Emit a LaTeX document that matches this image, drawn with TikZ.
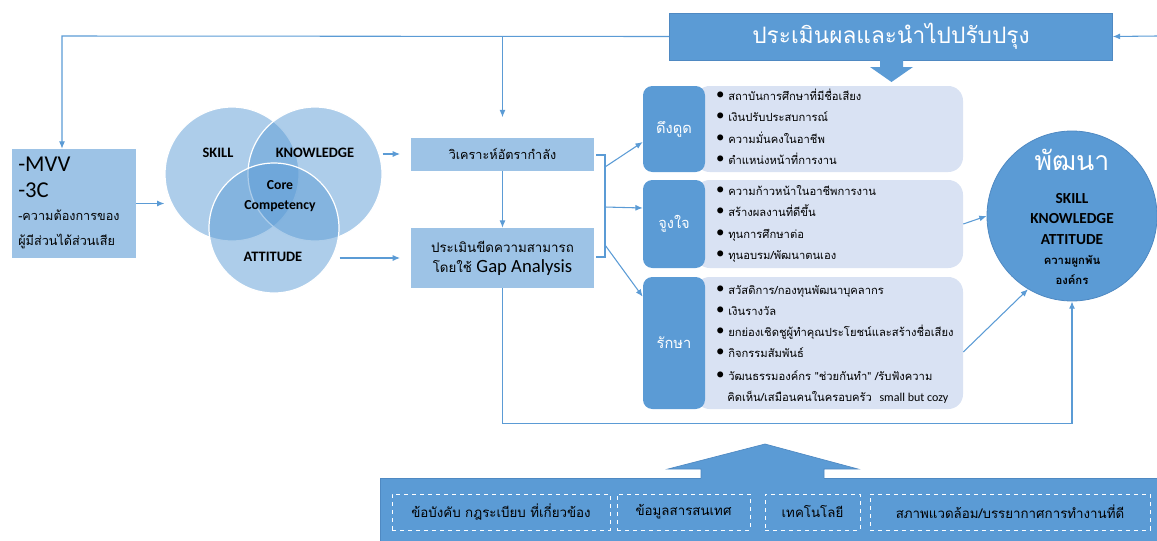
\documentclass[tikz,border=0pt]{standalone}
\usepackage{fontspec}
\setmainfont{Carlito}
\newfontfamily\thf[Script=Thai]{Loma}
\usetikzlibrary{arrows.meta,calc}
\definecolor{bl}{HTML}{5B9BD5}
\definecolor{bld}{HTML}{4F89C2}
\definecolor{lb}{HTML}{9DC3E6}
\definecolor{pn}{HTML}{D9E2F3}
\begin{document}
\begin{tikzpicture}[x=0.75pt,y=-0.75pt,
  sz/.style 2 args={minimum width=#1*0.75pt, minimum height=#2*0.75pt, inner sep=0pt},
  conn/.style={draw=bl, line width=0.8pt, -{Latex[length=5.5pt,width=4.5pt]}},
  plain/.style={draw=bl, line width=0.8pt},
  lbox/.style={fill=lb, draw=none},
  dbox/.style={fill=bl, draw=none, rounded corners=7pt, text=white},
  panel/.style={fill=pn, draw=none, rounded corners=11pt},
  vc/.style={circle, fill=bl, fill opacity=0.5, draw=white, line width=0.9pt, inner sep=0pt},
  vlab/.style={font=\bfseries\fontsize{10.8}{12}\selectfont, inner sep=0pt},
  item/.style={anchor=base west, inner sep=0pt, font=\thf\fontsize{8.4}{10}\selectfont},
  dsh/.style={draw=white, dashed, line width=0.6pt, font=\thf\fontsize{10}{12}\selectfont}
]
\useasboundingbox (0,0) rectangle (1157,540);

% evaluation box
\node[sz={443}{47}, fill=bl, draw=bld, text=white, font=\thf\fontsize{17}{20}\selectfont] (eval) at (891,36.5) {ประเมินผลและนำไปปรับปรุง};
\fill[bl] (880,60) -- (903,60) -- (903,67) -- (913,67) -- (891.5,82) -- (870,67) -- (880,67) -- cycle;
\coordinate (rin) at (1157,36);
\draw[conn] (rin) -- (eval.east);

% MVV box
\node[lbox, sz={124}{109}] (mvv) at (74,203.5) {};
\node[anchor=base west, inner sep=0pt, font=\fontsize{17}{20}\selectfont] (t1) at (18,171) {-MVV};
\node[anchor=base west, inner sep=0pt, font=\fontsize{17}{20}\selectfont] (t2) at (18,197) {-3C};
\node[anchor=base west, inner sep=0pt, font=\thf\fontsize{9.5}{12}\selectfont] (t3) at (18,220) {-ความต้องการของ};
\node[anchor=base west, inner sep=0pt, font=\thf\fontsize{9.5}{12}\selectfont] (t4) at (18,245) {ผู้มีส่วนได้ส่วนเสีย};

% top feedback line
\draw[conn] (eval.west) -- (62,36) -- (62,0 |- mvv.north);

% Venn
\node[vc, minimum size=134*0.75pt] (skill) at (232,174) {};
\node[vc, minimum size=134*0.75pt] (know) at (315,174) {};
\node[vc, minimum size=130*0.75pt] (att) at (274,228) {};
\node[vlab] (ls) at (218,153) {SKILL};
\node[vlab] (lk) at (315,153) {KNOWLEDGE};
\node[vlab, align=center, font=\bfseries\fontsize{10.3}{15}\selectfont] (lc) at (280,196) {Core\\Competency};
\node[vlab] (la) at (273,257) {ATTITUDE};
\draw[conn] (mvv.east) -- (mvv.east -| skill.west);

% analysis boxes
\node[lbox, sz={183}{33}, font=\thf\fontsize{9.5}{12}\selectfont] (wk) at (502.5,154) {วิเคราะห์อัตรากำลัง};
\node[lbox, sz={183}{60}, align=center, font=\thf\fontsize{10}{12}\selectfont] (pm) at (502.5,258) {ประเมินขีดความสามารถ\\[3pt]โดยใช้ {\rmfamily\fontsize{14}{14}\selectfont Gap Analysis}};
\draw[conn, shorten >=15pt] (wk.north |- eval.west) -- (wk.north);
\draw[conn] (wk.south) -- (pm.north);
\draw[conn, shorten >=8pt] (know.east |- wk.west) -- (wk.west);
\draw[conn, shorten >=8pt] (att.east |- pm.west) -- (pm.west);

% panels
\node[panel, sz={268}{86}] (ddp) at (829,129) {};
\node[panel, sz={268}{88}] (jjp) at (829,224) {};
\node[panel, sz={268}{132}] (rkp) at (829,343) {};
\node[dbox, sz={62}{86}, font=\thf\fontsize{11}{13}\selectfont] (dd) at (674,129) {ดึงดูด};
\node[dbox, sz={62}{88}, font=\thf\fontsize{11}{13}\selectfont] (jj) at (674,224) {จูงใจ};
\node[dbox, sz={62}{132}, font=\thf\fontsize{11}{13}\selectfont] (rk) at (674,343) {รักษา};

% bracket
\coordinate (br1) at (605,167);
\coordinate (br2) at (605,207);
\coordinate (br3) at (605,245);
\draw[plain] (596,155) -- (605,155) -- (605,257) -- (596,257);
\draw[conn] (br1) -- ($(dd.west)+(0,13)$);
\draw[conn] (br2) -- ($(jj.west)+(0,-16)$);
\draw[conn] (br3) -- ($(rk.north west)+(0,20)$);

% items
\newcommand{\bul}{{\fontsize{13}{10}\selectfont\textbullet}\hspace{3pt}}
\node[item] (d1) at (716,100) {\bul สถาบันการศึกษาที่มีชื่อเสียง};
\node[item] (d2) at (716,121) {\bul เงินปรับประสบการณ์};
\node[item] (d3) at (716,143) {\bul ความมั่นคงในอาชีพ};
\node[item] (d4) at (716,164) {\bul ตำแหน่งหน้าที่การงาน};
\node[item] (j1) at (716,195) {\bul ความก้าวหน้าในอาชีพการงาน};
\node[item] (j2) at (716,216) {\bul สร้างผลงานที่ดีขึ้น};
\node[item] (j3) at (716,238) {\bul ทุนการศึกษาต่อ};
\node[item] (j4) at (716,259) {\bul ทุนอบรม/พัฒนาตนเอง};
\node[item] (r1) at (716,294) {\bul สวัสดิการ/กองทุนพัฒนาบุคลากร};
\node[item] (r2) at (716,315) {\bul เงินรางวัล};
\node[item] (r3) at (716,336) {\bul ยกย่องเชิดชูผู้ทำคุณประโยชน์และสร้างชื่อเสียง};
\node[item] (r4) at (716,357) {\bul กิจกรรมสัมพันธ์};
\node[item] (r5) at (716,380) {\bul วัฒนธรรมองค์กร "ช่วยกันทำ" /รับฟังความ};
\node[item] (r6) at (727,401) {คิดเห็น/เสมือนคนในครอบครัว\ \ {\rmfamily\fontsize{9}{10}\selectfont small but cozy}};

% develop circle
\node[circle, fill=bl, draw=bld, line width=0.6pt, minimum size=170*0.75pt, inner sep=0pt] (dev) at (1072,216) {};
\node[inner sep=0pt, text=white, font=\thf\fontsize{20}{22}\selectfont] (dv0) at (1072,160) {พัฒนา};
\node[inner sep=0pt, font=\bfseries\fontsize{11.5}{13}\selectfont] (dv1) at (1072,199) {SKILL};
\node[inner sep=0pt, font=\bfseries\fontsize{11.5}{13}\selectfont] (dv2) at (1072,219) {KNOWLEDGE};
\node[inner sep=0pt, font=\bfseries\fontsize{11.5}{13}\selectfont] (dv3) at (1072,240) {ATTITUDE};
\node[inner sep=0pt, font=\thf\bfseries\fontsize{8.5}{10}\selectfont] (dv4) at (1072,261) {ความผูกพัน};
\node[inner sep=0pt, font=\thf\bfseries\fontsize{8.5}{10}\selectfont] (dv5) at (1072,280) {องค์กร};

\draw[conn] (jjp.east) -- (dev.west);
\draw[conn] ($(rkp.east)+(0,9)$) -- (dev.239);
\draw[conn] (pm.south) -- ++(0,135) -| (dev.south);

% bottom box
\node[fill=bl, draw=bld, sz={790}{70}] (bot) at (775,513) {};
\fill[bl] (701,480) -- (701,469) -- (668,469) -- (765,444) -- (858,469) -- (824,469) -- (824,480) -- cycle;
\draw[bld, line width=0.5pt] (701,478) -- (701,469) -- (668,469) -- (765,444) -- (858,469) -- (824,469) -- (824,478);
\node[dsh, sz={218}{36}] (b1) at (501,512) {ข้อบังคับ กฎระเบียบ ที่เกี่ยวข้อง};
\node[dsh, sz={133}{36}] (b2) at (683.5,512) {ข้อมูลสารสนเทศ};
\node[dsh, sz={95}{36}] (b3) at (812.5,512) {เทคโนโลยี};
\node[dsh, sz={280}{36}] (b4) at (1010,512) {สภาพแวดล้อม/บรรยากาศการทำงานที่ดี};
\end{tikzpicture}
\end{document}
